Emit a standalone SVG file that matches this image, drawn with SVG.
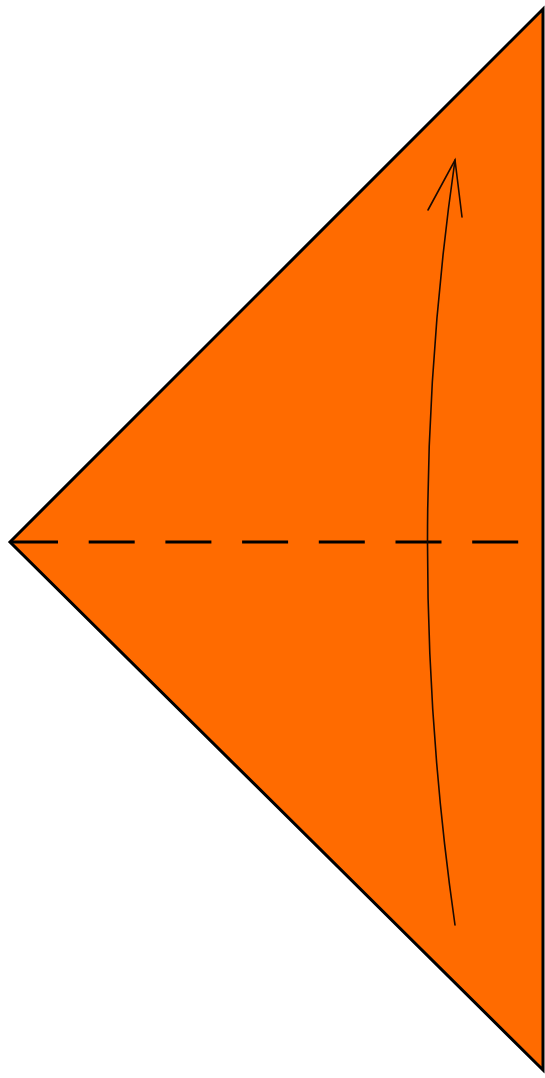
<svg xmlns="http://www.w3.org/2000/svg" width="545" height="1078" viewBox="0 0 545 1078">
<style>
.paper{fill:#FF6B00;stroke:#000;stroke-width:3;stroke-linejoin:miter}
.fold{stroke:#000;stroke-width:3;fill:none;stroke-dasharray:46 30.7}
.arrow{stroke:#1a0a00;stroke-width:1.6;fill:none;stroke-linecap:round}
</style>
<rect width="545" height="1078" fill="#fff"/>
<g id="paper">
<polygon class="paper" points="10,542 543,9 543,1070"/>
</g>
<g id="connectors">
<line class="fold" x1="12" y1="542" x2="527" y2="542"/>
<path class="arrow" d="M455,925 Q400,542 455,160"/>
<path class="arrow" d="M428,210 L455,160 L462,217"/>
</g>
</svg>
